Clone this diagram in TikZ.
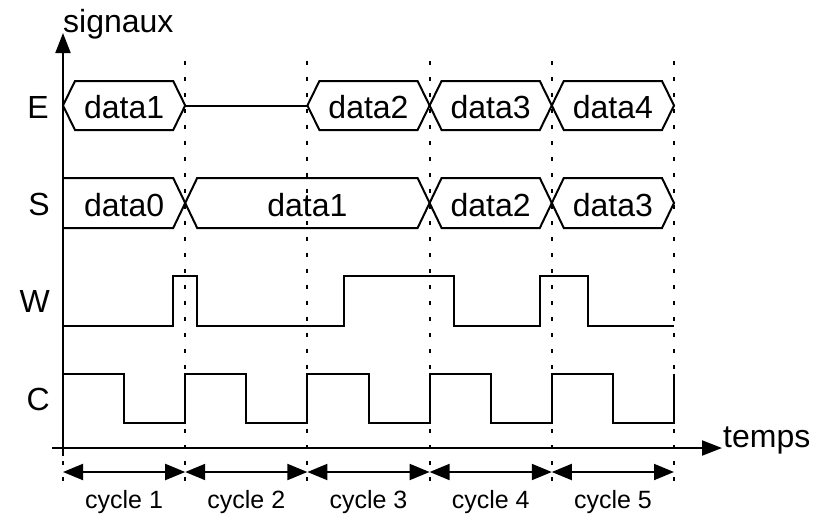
\documentclass[tikz,border=0pt]{standalone}
\usepackage{fontspec}
\setmainfont{Liberation Sans}
\usetikzlibrary{arrows.meta}
\tikzset{
  sig/.style={line width=2pt, line join=miter},
  axisline/.style={line width=2pt, -{Triangle[length=20pt,width=15pt]}},
  cycarrow/.style={line width=2pt, {Triangle[length=20pt,width=16pt]}-{Triangle[length=20pt,width=16pt]}},
  guide/.style={line width=2pt, dash pattern=on 4pt off 12pt},
  biglab/.style={inner sep=0pt, font=\fontsize{32}{38}\selectfont},
  cyclab/.style={inner sep=0pt, font=\fontsize{25}{30}\selectfont, anchor=base},
}
\newcommand\hexbox[6]{%
  \draw[sig] (#1,{(#3+#4)/2}) -- ({#1+12},#3) -- ({#2-12},#3) -- (#2,{(#3+#4)/2}) -- ({#2-12},#4) -- ({#1+12},#4) -- cycle;
  \node[biglab] (#5) at ({(#1+#2)/2},{(#3+#4)/2+2}) {#6};}
\begin{document}
\begin{tikzpicture}[x=1pt,y=-1pt]
\useasboundingbox (0,0) rectangle (814,515);
% guides
\foreach \gx/\gn in {63/0,185.2/1,307.4/2,429.6/3,551.8/4,674/5}{
  \coordinate (gt\gn) at (\gx,61);
  \coordinate (gb\gn) at (\gx,490);
  \draw[guide] (gt\gn) -- (gb\gn);
}
% axes
\coordinate (ybot) at (63,456);
\coordinate (ytop) at (63,33);
\coordinate (xleft) at (52,448);
\coordinate (xright) at (722,448);
\draw[axisline] (ybot) -- (ytop);
\draw[axisline] (xleft) -- (xright);
\node[biglab, anchor=base west] (signaux) at (63,32) {signaux};
\node[biglab, anchor=base west] (temps) at (723,447) {temps};
% signal names
\node[biglab, anchor=east] (lE) at (49,107.5) {E};
\node[biglab, anchor=east] (lS) at (50,204) {S};
\node[biglab, anchor=east] (lW) at (50,301) {W};
\node[biglab, anchor=east] (lC) at (50,399.5) {C};
% E
\hexbox{63}{185.2}{81}{130}{e1}{data1}
\draw[sig] (185.2,105.5) -- (307.4,105.5);
\hexbox{307.4}{429.6}{81}{130}{e2}{data2}
\hexbox{429.6}{551.8}{81}{130}{e3}{data3}
\hexbox{551.8}{674}{81}{130}{e4}{data4}
% S
\draw[sig] (63,178) -- (173.2,178) -- (185.2,203) -- (173.2,228) -- (63,228);
\node[biglab] (s0) at (124.1,205) {data0};
\hexbox{185.2}{429.6}{178}{228}{s1}{data1}
\hexbox{429.6}{551.8}{178}{228}{s2}{data2}
\hexbox{551.8}{674}{178}{228}{s3}{data3}
% W
\draw[sig] (63,326) -- (173,326) -- (173,276) -- (197,276) -- (197,326) -- (344,326) -- (344,276) -- (454,276) -- (454,326) -- (540,326) -- (540,276) -- (588,276) -- (588,326) -- (674,326);
% C
\draw[sig] (63,374) -- (124.1,374) -- (124.1,423) -- (185.2,423) -- (185.2,374) -- (246.3,374) -- (246.3,423) -- (307.4,423) -- (307.4,374) -- (368.5,374) -- (368.5,423) -- (429.6,423) -- (429.6,374) -- (490.7,374) -- (490.7,423) -- (551.8,423) -- (551.8,374) -- (612.9,374) -- (612.9,423) -- (674,423) -- (674,374);
% cycles
\foreach \a/\b/\n in {63/185.2/1,185.2/307.4/2,307.4/429.6/3,429.6/551.8/4,551.8/674/5}{
  \coordinate (ca\n) at (\a,472);
  \coordinate (cb\n) at (\b,472);
  \draw[cycarrow] (ca\n) -- (cb\n);
  \node[cyclab] (cyc\n) at ({(\a+\b)/2},508) {cycle \n};
}
\end{tikzpicture}
\end{document}
